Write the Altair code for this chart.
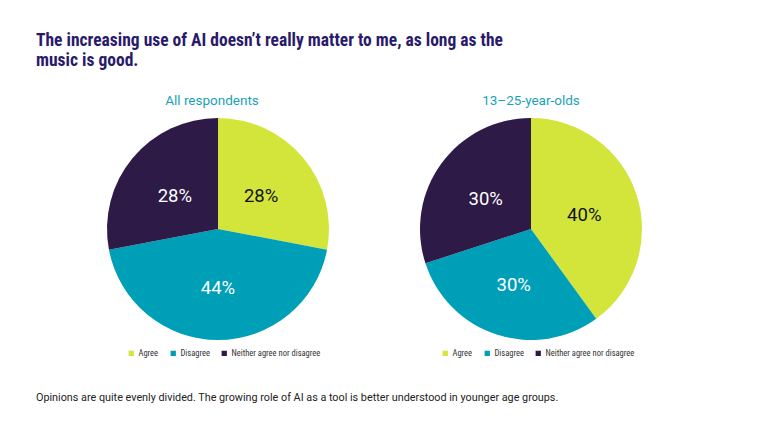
import altair as alt
import pandas as pd

categories = ["Agree", "Disagree", "Neither agree nor disagree"]
all_values = [28, 44, 28]
young_values = [40, 30, 30]
group_names = ["All respondents", "13–25-year-olds"]
colors = ["#d3e53b", "#009fb8", "#2d1a47"]
label_colors = ["#111111", "#ffffff", "#ffffff"]

title_lines = ["The increasing use of AI doesn’t really matter to me, as long as the", "music is good."]
footer = "Opinions are quite evenly divided. The growing role of AI as a tool is better understood in younger age groups."

FONT = "Roboto"

rows = []
for g, vals in zip(group_names, [all_values, young_values]):
    for i, (c, v) in enumerate(zip(categories, vals)):
        rows.append({"group": g, "category": c, "value": v, "order": i,
                     "label": f"{v}%", "lc": label_colors[i]})
df = pd.DataFrame(rows)

centers = {group_names[0]: 218, group_names[1]: 531}
CY = 229
R = 111

def pie(group, legend_x):
    base = alt.Chart(df).transform_filter(alt.datum.group == group)
    arc = base.mark_arc(radius=R, stroke=None).encode(
        theta=alt.Theta("value:Q", stack=True),
        order=alt.Order("order:Q"),
        color=alt.Color("category:N",
                        scale=alt.Scale(domain=categories, range=colors),
                        legend=alt.Legend(orient="none", legendX=legend_x, legendY=349,
                                          direction="horizontal", title=None,
                                          symbolType="square", symbolSize=28,
                                          symbolStrokeWidth=0,
                                          labelFontSize=8.5, labelFont="Roboto Condensed, Roboto",
                                          labelFontWeight="normal",
                                          labelColor="#333333",
                                          columnPadding=10, symbolOffset=0, labelOffset=3)),
        x=alt.value(centers[group]),
        y=alt.value(CY),
    )
    txt = base.mark_text(radius=56, fontSize=18.5, font=FONT, fontWeight=400, dy=3).encode(
        theta=alt.Theta("value:Q", stack=True),
        order=alt.Order("order:Q"),
        detail="category:N",
        text="label:N",
        color=alt.Color("lc:N", scale=None),
        x=alt.value(centers[group]),
        y=alt.value(CY),
    )
    sub = alt.Chart(pd.DataFrame({"t": [group]})).mark_text(
        fontSize=13.5, font=FONT, color="#1aa3b8", align="center", baseline="middle"
    ).encode(text="t:N", x=alt.value(centers[group] - 6 if group == group_names[0] else centers[group]), y=alt.value(101))
    return arc, txt, sub

a1, t1, s1 = pie(group_names[0], 127)
a2, t2, s2 = pie(group_names[1], 441)

title = alt.Chart(pd.DataFrame({"t": [title_lines]})).mark_text(
    fontSize=17.5, font="Roboto Condensed, Liberation Sans Narrow, Roboto", fontWeight="bold",
    color="#2a1a6b", align="left", baseline="top", lineHeight=20
).encode(text="t", x=alt.value(36), y=alt.value(32))

foot = alt.Chart(pd.DataFrame({"t": [footer]})).mark_text(
    fontSize=10.8, font=FONT, color="#222222", align="left", baseline="middle"
).encode(text="t:N", x=alt.value(36), y=alt.value(398))

chart = alt.layer(a1, t1, s1, a2, t2, s2, title, foot).resolve_scale(
    color="independent"
).properties(
    width=768, height=432, autosize=alt.AutoSizeParams(type="none"), padding=0,
    background="white"
).configure_view(stroke=None)

chart.save("out.html", embed_options={"renderer": "svg", "actions": False})
